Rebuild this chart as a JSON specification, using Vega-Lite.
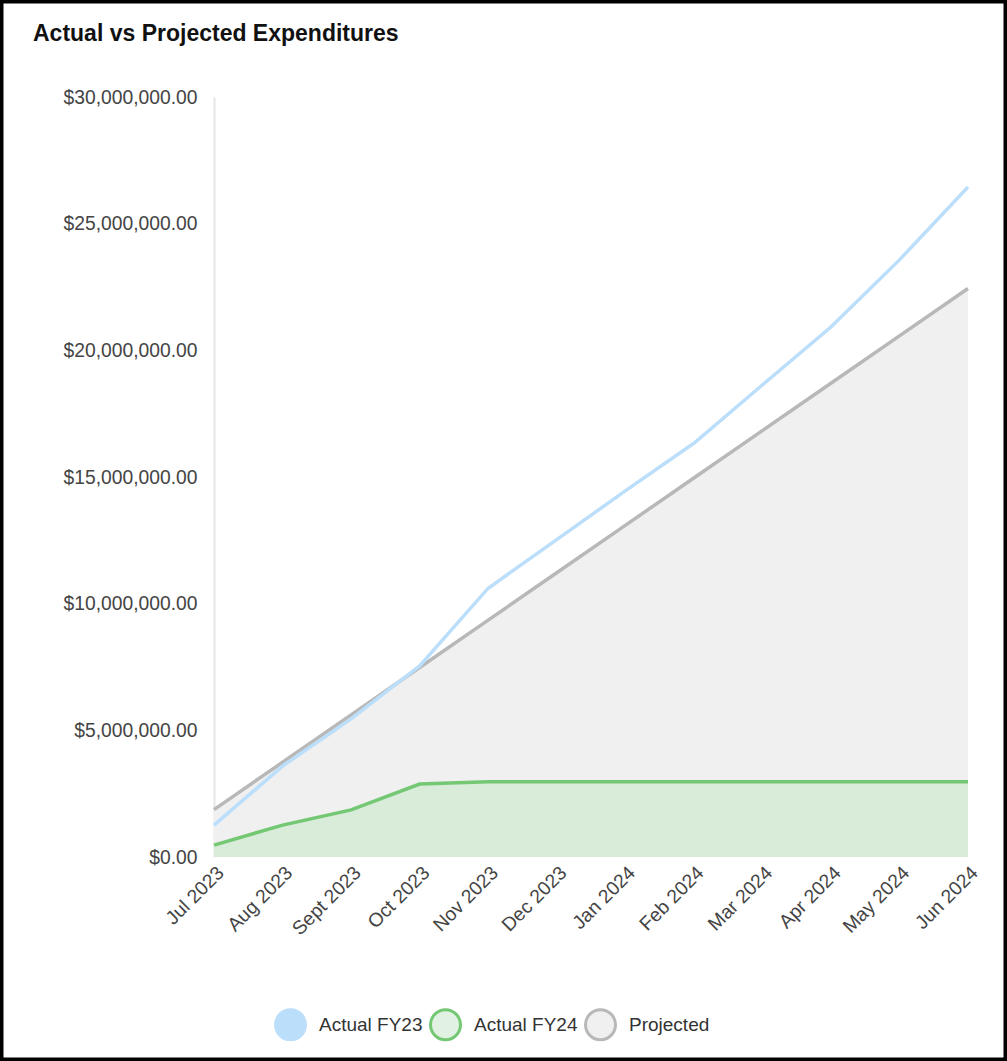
{
  "$schema": "https://vega.github.io/schema/vega-lite/v6.json",
  "width": 1007,
  "height": 1061,
  "autosize": {"type": "none"},
  "padding": 0,
  "background": "white",
  "title": {
    "text": "Actual vs Projected Expenditures",
    "anchor": "start",
    "frame": "group",
    "orient": "top",
    "offset": -40,
    "dx": 33,
    "dy": 24,
    "baseline": "alphabetic",
    "font": "Liberation Sans",
    "fontSize": 23,
    "fontWeight": "bold",
    "color": "#111111"
  },
  "config": {
    "font": "Liberation Sans",
    "view": {"stroke": "#000000", "strokeWidth": 7, "fill": "white"},
    "axis": {"labelFont": "Liberation Sans", "labelFontSize": 19.3, "labelColor": "#444444", "ticks": false, "grid": false, "title": null},
    "legend": {"labelFont": "Liberation Sans", "labelFontSize": 19, "labelColor": "#333333", "orient": "none", "legendX": 274, "legendY": 1008, "direction": "horizontal", "title": null, "symbolType": "circle", "symbolSize": 900, "symbolStrokeWidth": 3, "symbolOpacity": 1, "labelOffset": 12, "columnPadding": 1}
  },
  "data": {
    "values": [
      {"month": "Jul 2023", "series": "Actual FY23", "value": 1260000},
      {"month": "Aug 2023", "series": "Actual FY23", "value": 3590000},
      {"month": "Sept 2023", "series": "Actual FY23", "value": 5450000},
      {"month": "Oct 2023", "series": "Actual FY23", "value": 7540000},
      {"month": "Nov 2023", "series": "Actual FY23", "value": 10610000},
      {"month": "Dec 2023", "series": "Actual FY23", "value": 12530000},
      {"month": "Jan 2024", "series": "Actual FY23", "value": 14450000},
      {"month": "Feb 2024", "series": "Actual FY23", "value": 16330000},
      {"month": "Mar 2024", "series": "Actual FY23", "value": 18630000},
      {"month": "Apr 2024", "series": "Actual FY23", "value": 20920000},
      {"month": "May 2024", "series": "Actual FY23", "value": 23570000},
      {"month": "Jun 2024", "series": "Actual FY23", "value": 26450000},
      {"month": "Jul 2023", "series": "Actual FY24", "value": 470000},
      {"month": "Aug 2023", "series": "Actual FY24", "value": 1260000},
      {"month": "Sept 2023", "series": "Actual FY24", "value": 1860000},
      {"month": "Oct 2023", "series": "Actual FY24", "value": 2880000},
      {"month": "Nov 2023", "series": "Actual FY24", "value": 2970000},
      {"month": "Dec 2023", "series": "Actual FY24", "value": 2970000},
      {"month": "Jan 2024", "series": "Actual FY24", "value": 2970000},
      {"month": "Feb 2024", "series": "Actual FY24", "value": 2970000},
      {"month": "Mar 2024", "series": "Actual FY24", "value": 2970000},
      {"month": "Apr 2024", "series": "Actual FY24", "value": 2970000},
      {"month": "May 2024", "series": "Actual FY24", "value": 2970000},
      {"month": "Jun 2024", "series": "Actual FY24", "value": 2970000},
      {"month": "Jul 2023", "series": "Projected", "value": 1870000},
      {"month": "Aug 2023", "series": "Projected", "value": 3740000},
      {"month": "Sept 2023", "series": "Projected", "value": 5610000},
      {"month": "Oct 2023", "series": "Projected", "value": 7480000},
      {"month": "Nov 2023", "series": "Projected", "value": 9350000},
      {"month": "Dec 2023", "series": "Projected", "value": 11220000},
      {"month": "Jan 2024", "series": "Projected", "value": 13090000},
      {"month": "Feb 2024", "series": "Projected", "value": 14960000},
      {"month": "Mar 2024", "series": "Projected", "value": 16830000},
      {"month": "Apr 2024", "series": "Projected", "value": 18700000},
      {"month": "May 2024", "series": "Projected", "value": 20570000},
      {"month": "Jun 2024", "series": "Projected", "value": 22440000}
    ]
  },
  "encoding": {
    "x": {
      "field": "month",
      "type": "ordinal",
      "sort": ["Jul 2023", "Aug 2023", "Sept 2023", "Oct 2023", "Nov 2023", "Dec 2023", "Jan 2024", "Feb 2024", "Mar 2024", "Apr 2024", "May 2024", "Jun 2024"],
      "scale": {"type": "point", "range": [214, 968], "padding": 0},
      "axis": {"offset": -204, "labelAngle": -45, "domain": false, "labelPadding": 6}
    },
    "y": {
      "field": "value",
      "type": "quantitative",
      "stack": null,
      "scale": {"domain": [0, 30000000], "range": [857, 97], "nice": false, "zero": true},
      "axis": {"offset": -214, "values": [0, 5000000, 10000000, 15000000, 20000000, 25000000, 30000000], "format": "$,.2f", "domainColor": "#e6e6e6", "domainWidth": 2, "labelPadding": 17}
    }
  },
  "layer": [
    {
      "transform": [{"filter": "datum.series === 'Projected'"}],
      "mark": {"type": "area"},
      "encoding": {
        "fill": {"field": "series", "type": "nominal", "scale": {"domain": ["Actual FY23", "Actual FY24", "Projected"], "range": ["#bbdefb", "#e2f2e2", "#f0f0f0"]}}
      }
    },
    {
      "transform": [{"filter": "datum.series === 'Actual FY24'"}],
      "mark": {"type": "area", "color": "#d9ebd9"},
      "encoding": {}
    },
    {
      "transform": [{"filter": "datum.series === 'Projected'"}],
      "mark": {"type": "line", "strokeWidth": 3.5},
      "encoding": {
        "stroke": {"field": "series", "type": "nominal", "scale": {"domain": ["Actual FY23", "Actual FY24", "Projected"], "range": ["#bbdefb", "#74c874", "#b8b8b8"]}}
      }
    },
    {
      "transform": [{"filter": "datum.series === 'Actual FY23'"}],
      "mark": {"type": "line", "strokeWidth": 3.5},
      "encoding": {
        "stroke": {"field": "series", "type": "nominal"}
      }
    },
    {
      "transform": [{"filter": "datum.series === 'Actual FY24'"}],
      "mark": {"type": "line", "strokeWidth": 3.5},
      "encoding": {
        "stroke": {"field": "series", "type": "nominal"}
      }
    }
  ]
}
